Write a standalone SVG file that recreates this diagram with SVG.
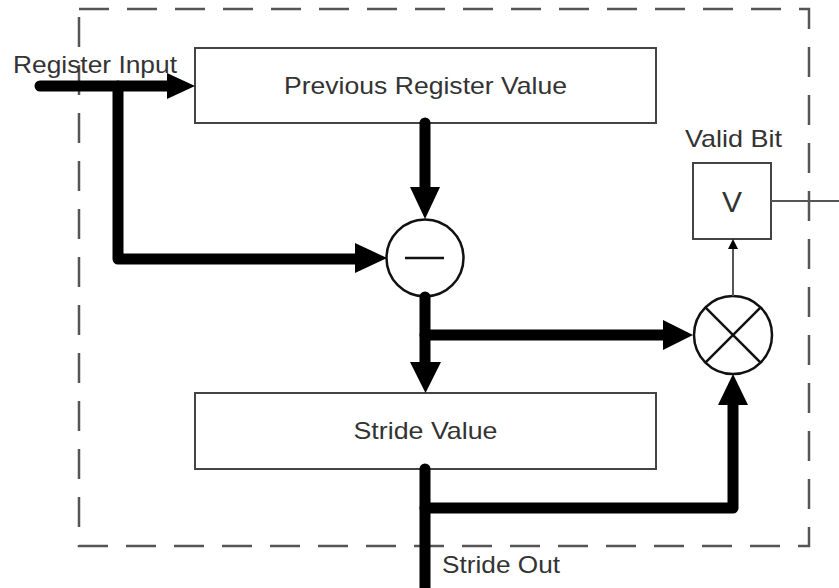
<svg xmlns="http://www.w3.org/2000/svg" width="839" height="588" viewBox="0 0 839 588">
  <style>
    .lbl { font-family: "Liberation Sans", Arial, sans-serif; font-size: 24px; fill: #333; }
    .box { fill: #fff; stroke: #444; stroke-width: 2; }
    .op { fill: #fff; stroke: #111; stroke-width: 2.5; }
    .bus { fill: none; stroke: #000; stroke-width: 11; stroke-linejoin: round; stroke-linecap: round; }
    .head { fill: #000; }
    .thin { fill: none; stroke: #555; stroke-width: 2; }
  </style>

  <!-- unit boundary -->
  <path d="M79,9 H809 V546 H79 Z" fill="none" stroke="#555" stroke-width="2.5" stroke-dasharray="30 18"/>

  <g id="prev-register">
    <rect class="box" x="195" y="48" width="461" height="75"/>
    <text class="lbl" x="425.5" y="94" text-anchor="middle" textLength="283" lengthAdjust="spacingAndGlyphs">Previous Register Value</text>
  </g>

  <g id="subtract">
    <circle class="op" cx="425" cy="258" r="38.5"/>
    <line x1="405" y1="258" x2="444" y2="258" stroke="#111" stroke-width="2.5"/>
  </g>

  <g id="stride-value">
    <rect class="box" x="195" y="393" width="461" height="76"/>
    <text class="lbl" x="425.5" y="439" text-anchor="middle" textLength="144" lengthAdjust="spacingAndGlyphs">Stride Value</text>
  </g>

  <g id="compare">
    <circle class="op" cx="733" cy="335" r="39"/>
    <line x1="705.4" y1="307.4" x2="760.6" y2="362.6" stroke="#111" stroke-width="2.5"/>
    <line x1="760.6" y1="307.4" x2="705.4" y2="362.6" stroke="#111" stroke-width="2.5"/>
  </g>

  <g id="valid-bit">
    <rect class="box" x="693" y="163" width="78" height="76"/>
    <text class="lbl" x="732" y="212" text-anchor="middle" style="font-size:30px">V</text>
    <text class="lbl" x="733.5" y="147" text-anchor="middle" textLength="97" lengthAdjust="spacingAndGlyphs">Valid Bit</text>
  </g>

  <g id="io-labels">
    <text class="lbl" x="13" y="72.5" textLength="164" lengthAdjust="spacingAndGlyphs">Register Input</text>
    <text class="lbl" x="442" y="573" textLength="118" lengthAdjust="spacingAndGlyphs">Stride Out</text>
  </g>

  <g id="connectors">
    <!-- register input into previous value -->
    <path class="bus" d="M40,86 H170"/>
    <polygon class="head" points="167,73 195,86 167,99"/>
    <!-- register input branch into subtractor -->
    <path class="bus" d="M118,86 V259 H358"/>
    <polygon class="head" points="355,243 387,258 355,273"/>
    <!-- previous value into subtractor -->
    <path class="bus" d="M425,123 V190"/>
    <polygon class="head" points="410,187 440,187 425,219"/>
    <!-- subtractor into stride value -->
    <path class="bus" d="M425,297 V365"/>
    <polygon class="head" points="410,362 441,362 425.5,393"/>
    <!-- subtractor into comparator -->
    <path class="bus" d="M425,335 H666"/>
    <polygon class="head" points="663,320 693,335 663,350"/>
    <!-- stride value out and into comparator -->
    <path class="bus" d="M425,469 V595"/>
    <path class="bus" d="M425,508 H733 V402"/>
    <polygon class="head" points="718,405 748,405 733,374"/>
    <!-- comparator to valid bit -->
    <line class="thin" x1="733" y1="296" x2="733" y2="247"/>
    <polygon class="head" points="728,249 738,249 733,239"/>
    <!-- valid bit output -->
    <line class="thin" x1="771" y1="201" x2="839" y2="201"/>
  </g>
</svg>
